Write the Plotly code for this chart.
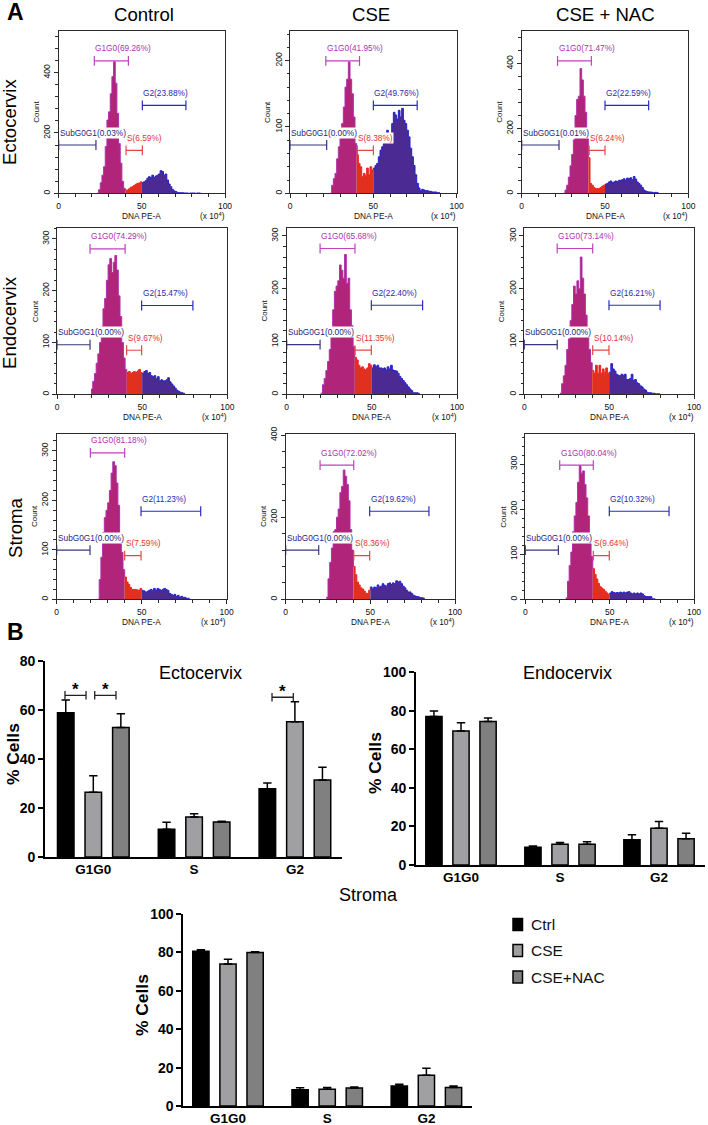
import plotly.graph_objects as go

W, H = 708, 1125
FONT = "Liberation Sans"

# ---------- A: DNA content histograms (counts per 1 x10^4 bin) ----------
columns = ["Control", "CSE", "CSE + NAC"]
rows = ["Ectocervix", "Endocervix", "Stroma"]
x_ticks = [0, 50, 100]

ecto_control_start = 23
ecto_control = [0, 12, 35, 60, 88, 155, 243, 270, 330, 387, 436, 365, 265, 165, 100, 40, 17, 11, 11, 15, 20, 22, 26, 30, 33, 34, 38, 35,
                38, 42, 50, 55, 52, 60, 52, 57, 60, 64, 75, 72, 60, 64, 44, 31, 22, 13, 8, 6, 3, 2, 2, 2, 1, 1, 1, 0, 1, 1, 1, 0, 1, 1, 0, 1]
ecto_cse_start = 24
ecto_cse = [0, 12, 22, 30, 52, 70, 85, 105, 130, 160, 172, 198, 172, 150, 115, 75, 58, 45, 40, 25, 30, 27, 38, 28, 40, 35, 38,
            42, 45, 55, 65, 70, 75, 80, 95, 85, 90, 105, 122, 118, 112, 125, 115, 128, 110, 105, 95, 85, 68, 55, 42, 28, 15, 8, 4, 6, 5, 4, 4, 3, 3, 2, 2, 2, 1, 1, 1]
ecto_nac_start = 25
ecto_nac = [0, 10, 25, 50, 85, 120, 165, 240, 290, 300, 385, 350, 300, 250, 170, 110, 30, 25, 18, 15, 15, 15, 18, 22, 25, 28,
            30, 35, 38, 33, 35, 38, 36, 40, 40, 42, 45, 40, 47, 45, 48, 42, 52, 44, 35, 30, 25, 18, 10, 7, 5, 4, 4, 3, 2, 3, 2, 1]
endo_control_start = 20
endo_control = [10, 25, 40, 60, 78, 100, 130, 165, 185, 220, 250, 262, 235, 255, 268, 240, 190, 150, 100, 70, 48, 42, 44, 40, 42, 44, 42, 45, 48, 42, 40,
                44, 46, 40, 42, 36, 34, 36, 30, 34, 26, 28, 26, 26, 28, 32, 24, 20, 16, 12, 8, 6, 4, 3, 2, 1]
endo_cse_start = 20
endo_cse = [2, 18, 30, 45, 62, 85, 125, 160, 195, 205, 215, 245, 235, 220, 265, 210, 220, 160, 130, 90, 70, 65, 55, 50, 52, 48, 46, 50, 58, 55, 50,
            56, 52, 55, 50, 50, 48, 50, 46, 52, 48, 55, 46, 45, 44, 40, 34, 30, 26, 22, 18, 14, 10, 7, 3, 3, 3, 2, 1]
endo_nac_start = 21
endo_nac = [2, 20, 35, 55, 85, 105, 140, 170, 205, 190, 215, 200, 260, 220, 190, 150, 115, 85, 60, 45, 40, 55, 40, 55, 40, 48, 42, 50, 40, 42,
            58, 48, 44, 38, 36, 35, 38, 36, 38, 28, 28, 30, 38, 26, 28, 22, 20, 16, 14, 10, 8, 4, 3, 3, 2, 2, 1, 1, 1, 1]
stroma_control_start = 24
stroma_control = [0, 40, 85, 135, 165, 180, 195, 220, 255, 278, 270, 235, 190, 130, 95, 60, 45, 35, 30, 24, 20, 20, 20, 19, 18, 22, 18,
                  17, 14, 16, 18, 20, 18, 22, 18, 22, 20, 18, 20, 22, 20, 18, 12, 10, 8, 10, 6, 8, 4, 6, 4, 4, 2, 2, 1]
stroma_cse_start = 24
stroma_cse = [5, 50, 90, 125, 165, 170, 200, 220, 260, 275, 315, 300, 280, 240, 170, 120, 80, 60, 42, 35, 28, 25, 20, 15, 14, 22, 30,
              25, 30, 28, 35, 30, 32, 38, 34, 32, 38, 40, 36, 40, 38, 45, 42, 44, 38, 32, 28, 22, 18, 18, 14, 10, 8, 7, 6, 4, 4, 3, 2]
stroma_nac_start = 24
stroma_nac = [3, 40, 75, 105, 150, 185, 215, 260, 297, 280, 285, 255, 225, 185, 130, 95, 68, 55, 45, 35, 28, 25, 22, 18, 14, 10, 14,
              17, 15, 14, 15, 14, 16, 14, 16, 14, 16, 17, 14, 12, 14, 12, 14, 12, 14, 12, 8, 6, 6, 6, 6, 1, 1, 1]

hist_starts = [ecto_control_start, ecto_cse_start, ecto_nac_start, endo_control_start, endo_cse_start,
               endo_nac_start, stroma_control_start, stroma_cse_start, stroma_nac_start]
hist_counts = [ecto_control, ecto_cse, ecto_nac, endo_control, endo_cse, endo_nac, stroma_control, stroma_cse, stroma_nac]
hist_ymax = [539, 245, 502, 321, 316, 316, 335, 404, 368]
hist_dtick = [200, 100, 200, 100, 100, 100, 100, 200, 100]

# gate ranges, in x10^4
gate_g1 = [(21.4, 41.9), (21.5, 41.7), (21.5, 41.8), (19.4, 40.0), (19.6, 40.1), (19.4, 40.3), (19.8, 40.0), (20.3, 40.2), (20.4, 40.3)]
gate_s = [(40.5, 50.3), (40.4, 50.0), (40.5, 50.0), (40.9, 49.7), (40.1, 49.7), (40.3, 49.9), (40.0, 49.6), (40.2, 49.6), (40.3, 49.8)]
gate_g2 = [(50.3, 76.5), (50.0, 76.3), (50.0, 76.2), (49.7, 79.8), (49.7, 79.8), (49.9, 80.0), (49.6, 84.7), (49.6, 84.6), (49.8, 85.2)]
gate_sub = [(0, 22.4), (0, 22.0), (0, 22.4), (0, 19.4), (0, 19.6), (0, 19.4), (0, 19.6), (0, 19.5), (0, 19.6)]
pct_g1 = ["69.26", "41.95", "71.47", "74.29", "65.68", "73.14", "81.18", "72.02", "80.04"]
pct_s = ["6.59", "8.38", "6.24", "9.67", "11.35", "10.14", "7.59", "8.36", "9.64"]
pct_g2 = ["23.88", "49.76", "22.59", "15.47", "22.40", "16.21", "11.23", "19.62", "10.32"]
pct_sub = ["0.03", "0.00", "0.01", "0.00", "0.00", "0.00", "0.00", "0.00", "0.00"]

# gate height as a fraction of the count axis
level_g1 = [.814, .814, .814, .874, .874, .874, .883, .809, .809]
level_g2 = [.541, .541, .541, .534, .534, .534, .531, .531, .531]
level_sub = [.297, .297, .297, .298, .298, .298, .297, .297, .297]
level_s = [.264, .264, .264, .265, .265, .265, .263, .263, .263]

# ---------- B: phase summary bars ----------
phases = ["G1G0", "S", "G2"]
groups = ["Ctrl", "CSE", "CSE+NAC"]
ecto_means = {"Ctrl": [58.9, 11.3, 27.9], "CSE": [26.4, 16.3, 55.2], "CSE+NAC": [52.9, 14.3, 31.4]}
ecto_errs = {"Ctrl": [5.2, 2.9, 2.3], "CSE": [6.8, 1.4, 8.2], "CSE+NAC": [5.6, 0.3, 5.2]}
endo_means = {"Ctrl": [76.9, 9.2, 13.1], "CSE": [69.4, 10.7, 19.0], "CSE+NAC": [74.4, 10.7, 13.6]}
endo_errs = {"Ctrl": [2.9, 0.6, 2.6], "CSE": [4.3, 0.9, 3.5], "CSE+NAC": [1.8, 1.4, 2.8]}
stroma_means = {"Ctrl": [80.6, 8.5, 10.4], "CSE": [74.0, 8.7, 16.0], "CSE+NAC": [79.9, 9.4, 9.7]}
stroma_errs = {"Ctrl": [0.8, 1.0, 0.9], "CSE": [2.4, 1.0, 3.6], "CSE+NAC": [0.5, 0.5, 0.7]}
sig_brackets = [(-0.281, -0.072, 66), (0.014, 0.225, 66), (1.773, 1.984, 65.2)]

# ---------- layout helpers ----------
hist_boxes = [  # left, right, top, bottom in page pixels
    (58.7, 225, 30.7, 193.3), (290, 456.7, 30.7, 193.3), (521.7, 688.3, 30.7, 193.3),
    (57, 227.3, 228, 394.3), (286.7, 457, 227.5, 394.3), (524.3, 694, 227.5, 394.3),
    (56.7, 226.7, 433.5, 599.3), (285.7, 455, 433.5, 599.3), (525.3, 694, 433.5, 599.3)]
bar_boxes = [(45, 341.7, 661, 857), (416, 705, 672, 865), (183.3, 472.3, 914, 1106)]
bar_origin = [(93.3, 100.8), (461, 99), (228, 99.2)]
bar_ymax = [80, 100, 100]
bar_titles = ["Ectocervix", "Endocervix", "Stroma"]
bar_title_pos = [(200, 673), (567, 673), (368, 895)]
bar_ylabel_pos = [(13, 754), (375, 763), (142, 1005)]

def dom_x(l, r):
    return [l / W, r / W]

def dom_y(t, b):
    return [1 - b / H, 1 - t / H]

C_G1 = "#b0247a"
C_S = "#e2301f"
C_G2 = "#4b2a94"
E_G1 = "#b02fa8"
E_S = "#ee2222"
E_G2 = "#1f1fd0"
G_G1 = "#c040c0"
G_S = "#e04848"
G_G2 = "#2a2ac0"
G_SUB = "#36367f"
L_G1 = "#b030b0"
L_S = "#e03434"
L_G2 = "#2a2ab0"
L_SUB = "#262680"
BAR_COLORS = {"Ctrl": "#000000", "CSE": "#a0a0a3", "CSE+NAC": "#808080"}

fig = go.Figure()
annotations = []
shapes = []
layout = {}

def page_text(text, x, y, size, bold=False, angle=0, color="#000000", anchor="center"):
    annotations.append(dict(text=f"<b>{text}</b>" if bold else text, x=x / W, y=1 - y / H, xref="paper", yref="paper",
                            xanchor=anchor, yanchor="middle", showarrow=False, textangle=angle,
                            font=dict(family=FONT, size=size, color=color)))

for i in range(9):
    n = "" if i == 0 else str(i + 1)
    ax = f"x{n}"
    ay = f"y{n}"
    l, r, t, b = hist_boxes[i]
    ymax = hist_ymax[i]
    xs = [hist_starts[i] + k for k in range(len(hist_counts[i]))]
    ys = hist_counts[i]
    b1 = round(gate_s[i][0])
    b2 = round(gate_s[i][1])
    segs = [
        ([x for x in xs if x <= b1], C_G1, E_G1),
        ([x for x in xs if b1 <= x <= b2], C_S, E_S),
        ([x for x in xs if x >= b2], C_G2, E_G2),
    ]
    for sx, fc, ec in segs:
        sy = [ys[x - hist_starts[i]] for x in sx]
        fig.add_trace(go.Scatter(x=sx, y=sy, xaxis=ax, yaxis=ay, mode="lines", fill="tozeroy", fillcolor=fc,
                                 line=dict(color=ec, width=1, shape="hv"), showlegend=False, hoverinfo="skip"))
    gates = [
        (gate_g1[i], level_g1[i], G_G1, L_G1, f"G1G0({pct_g1[i]}%)"),
        (gate_g2[i], level_g2[i], G_G2, L_G2, f"G2({pct_g2[i]}%)"),
        (gate_sub[i], level_sub[i], G_SUB, L_SUB, f"SubG0G1({pct_sub[i]}%)"),
        (gate_s[i], level_s[i], G_S, L_S, f"S({pct_s[i]}%)"),
    ]
    for (g0, g1), lvl, gc, tc, label in gates:
        yv = lvl * ymax
        fig.add_trace(go.Scatter(x=[g0, g1], y=[yv, yv], xaxis=ax, yaxis=ay, mode="lines+markers",
                                 line=dict(color=gc, width=1.2),
                                 marker=dict(symbol="line-ns", size=7, line=dict(color=gc, width=1.2)),
                                 showlegend=False, hoverinfo="skip", cliponaxis=False))
        annotations.append(dict(text=label, x=g0, y=yv, xref=ax, yref=ay, xanchor="left", yanchor="middle",
                                yshift=12.5, showarrow=False, bgcolor="#ffffff", borderpad=0,
                                font=dict(family=FONT, size=8.3, color=tc)))
    layout[f"xaxis{n}"] = dict(domain=dom_x(l, r), range=[0, 100], anchor=ay, showline=True, mirror=True, automargin=False,
                               linecolor="#2a2a2a", linewidth=1, ticks="outside", ticklen=4, tickcolor="#2a2a2a",
                               tickvals=x_ticks, tickfont=dict(family=FONT, size=8.5, color="#111111"), showgrid=False,
                               zeroline=False, tickangle=0,
                               minor=dict(dtick=10, ticks="outside", ticklen=2.5, tickcolor="#2a2a2a", showgrid=False))
    layout[f"yaxis{n}"] = dict(domain=dom_y(t, b), range=[0, ymax], anchor=ax, showline=True, mirror=True, automargin=False,
                               linecolor="#2a2a2a", linewidth=1, ticks="outside", ticklen=4, tickcolor="#2a2a2a",
                               dtick=hist_dtick[i], tickangle=-90, tickfont=dict(family=FONT, size=8.5, color="#111111"),
                               showgrid=False, zeroline=False,
                               minor=dict(dtick=hist_dtick[i] / 5, ticks="outside", ticklen=2.5, tickcolor="#2a2a2a", showgrid=False))
    page_text("DNA PE-A", (l + r) / 2, b + 23, 8.3, color="#111111")
    page_text("Count", l - 22, (t + b) / 2, 8, angle=-90, color="#111111")
    page_text("(x 10<sup>4</sup>)", r - 13, b + 23, 8.3, color="#111111")

all_means = [ecto_means, endo_means, stroma_means]
all_errs = [ecto_errs, endo_errs, stroma_errs]
for j in range(3):
    n = str(10 + j)
    ax = f"x{n}"
    ay = f"y{n}"
    l, r, t, b = bar_boxes[j]
    x0, step = bar_origin[j]
    for g in groups:
        fig.add_trace(go.Bar(x=[0, 1, 2], y=all_means[j][g], name=g, xaxis=ax, yaxis=ay,
                             marker=dict(color=BAR_COLORS[g], line=dict(color="#000000", width=1.5)),
                             error_y=dict(type="data", array=all_errs[j][g], arrayminus=[0, 0, 0], symmetric=False,
                                          color="#000000", thickness=1.5, width=4.2),
                             showlegend=False, hoverinfo="skip"))
    layout[f"xaxis{n}"] = dict(domain=dom_x(l, r), range=[(l - x0) / step, (r - x0) / step], anchor=ay, automargin=False,
                               showline=True, linecolor="#000000", linewidth=1.8, ticks="", tickvals=[0, 1, 2],
                               ticktext=phases, tickfont=dict(family=FONT, size=13.5, color="#000000", weight="bold"),
                               showgrid=False, zeroline=False, ticklabelstandoff=-1)
    layout[f"yaxis{n}"] = dict(domain=dom_y(t, b), range=[0, bar_ymax[j]], anchor=ax, showline=True, automargin=False,
                               linecolor="#000000", linewidth=1.8, ticks="outside", ticklen=5, tickwidth=1.8,
                               tickcolor="#000000", dtick=20, tickfont=dict(family=FONT, size=14, color="#000000", weight="bold"),
                               showgrid=False, zeroline=False)
    page_text(bar_titles[j], *bar_title_pos[j], 18)
    page_text("% Cells", *bar_ylabel_pos[j], 17.4, bold=True, angle=-90)

for a, c, yv in sig_brackets:
    fig.add_trace(go.Scatter(x=[a, c], y=[yv, yv], xaxis="x10", yaxis="y10", mode="lines+markers",
                             line=dict(color="#222222", width=1.3),
                             marker=dict(symbol="line-ns", size=6, line=dict(color="#222222", width=1.3)),
                             showlegend=False, hoverinfo="skip"))
    annotations.append(dict(text="<b>*</b>", x=(a + c) / 2, y=yv, xref="x10", yref="y10", xanchor="center", yanchor="middle",
                            yshift=6, showarrow=False, font=dict(family=FONT, size=17, color="#000000")))

column_x = [144, 371, 605.7]
for name, cx in zip(columns, column_x):
    page_text(name, cx, 14, 18.6)
row_pos = [(9, 122), (9, 323), (15, 528)]
for name, (rx, ry) in zip(rows, row_pos):
    page_text(name, rx, ry, 18.6, angle=-90)
page_text("A", 15, 12, 23, bold=True)
page_text("B", 15, 632, 23, bold=True)

# key, in page pixels
key_rows = [924.5, 950.5, 977]
for g, ky in zip(groups, key_rows):
    shapes.append(dict(type="rect", xref="paper", yref="paper", x0=513 / W, x1=522.5 / W, y0=1 - (ky + 6) / H, y1=1 - (ky - 6) / H,
                       fillcolor=BAR_COLORS[g], line=dict(color="#000000", width=1.5)))
    page_text(g, 529, ky, 15.5, color="#111111", anchor="left")

fig.update_layout(**layout)
fig.update_layout(
    width=W, height=H, margin=dict(l=0, r=0, t=0, b=0, autoexpand=False), paper_bgcolor="#ffffff", plot_bgcolor="#ffffff",
    barmode="group", bargap=0.18, bargroupgap=0.4, annotations=annotations, shapes=shapes, showlegend=False,
)
fig.write_html("out.html", config={"displayModeBar": False}, post_script="document.body.style.margin='0';")
